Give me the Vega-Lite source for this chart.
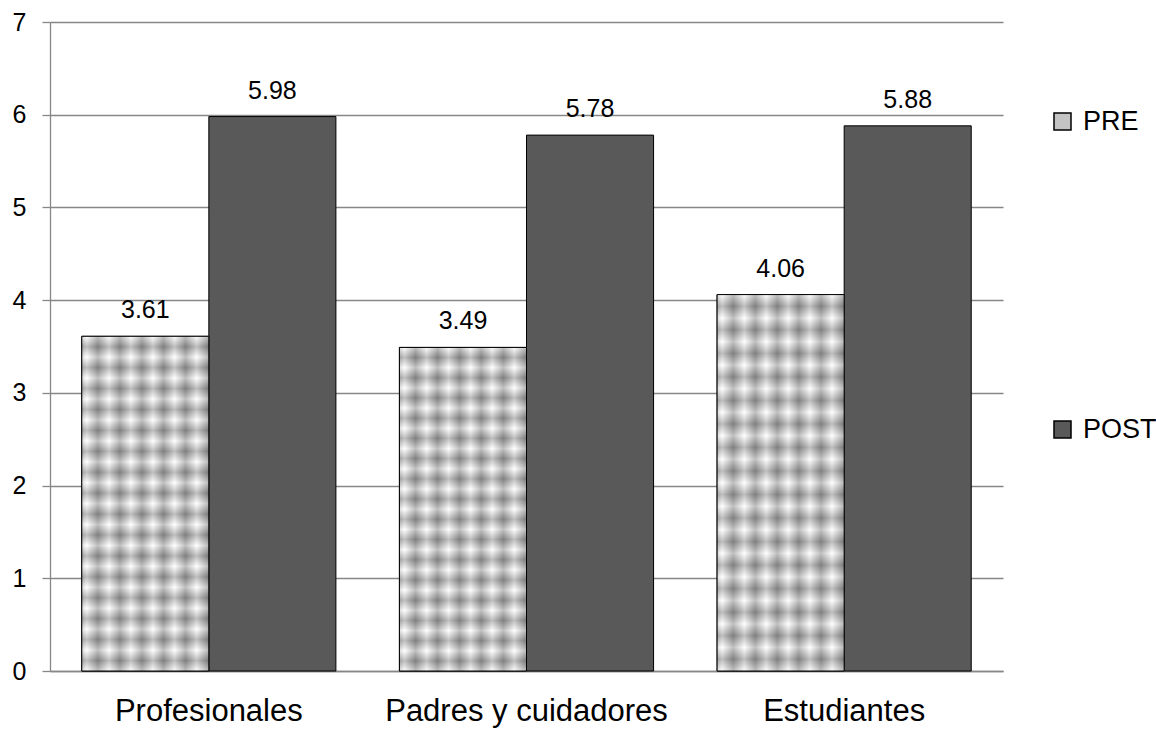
{
  "$schema": "https://vega.github.io/schema/vega-lite/v6.json",
  "width": 953,
  "height": 649,
  "autosize": {"type": "none"},
  "padding": {"left": 50, "top": 22, "right": 153, "bottom": 58},
  "background": "white",
  "config": {"view": {"stroke": null}, "font": "Liberation Sans"},
  "data": {
    "values": [
      {"grupo": "Profesionales", "serie": "Pre", "valor": 3.61},
      {"grupo": "Profesionales", "serie": "Post", "valor": 5.98},
      {"grupo": "Padres y cuidadores", "serie": "Pre", "valor": 3.49},
      {"grupo": "Padres y cuidadores", "serie": "Post", "valor": 5.78},
      {"grupo": "Estudiantes", "serie": "Pre", "valor": 4.06},
      {"grupo": "Estudiantes", "serie": "Post", "valor": 5.88}
    ]
  },
  "encoding": {
    "x": {
      "field": "grupo",
      "type": "nominal",
      "sort": ["Profesionales", "Padres y cuidadores", "Estudiantes"],
      "scale": {"paddingInner": 0.2, "paddingOuter": 0.1},
      "axis": {
        "title": null,
        "ticks": false,
        "tickSize": 0,
        "domain": true,
        "domainColor": "#878787",
        "domainWidth": 1.3,
        "labelAngle": 0,
        "labelLimit": 0,
        "labelFontSize": 31,
        "labelFont": "Liberation Sans",
        "labelColor": "black",
        "labelBaseline": "alphabetic",
        "labelPadding": 49
      }
    },
    "xOffset": {"field": "serie", "type": "nominal", "sort": ["Pre", "Post"]},
    "y": {
      "field": "valor",
      "type": "quantitative",
      "scale": {"domain": [0, 7], "nice": false},
      "axis": {
        "title": null,
        "values": [0, 1, 2, 3, 4, 5, 6, 7],
        "grid": true,
        "gridColor": "#878787",
        "gridWidth": 1.3,
        "domainColor": "#878787",
        "domainWidth": 1.3,
        "tickColor": "#878787",
        "tickWidth": 1.3,
        "tickSize": 8,
        "labelFontSize": 25,
        "labelFont": "Liberation Sans",
        "labelColor": "black",
        "labelPadding": 16
      }
    }
  },
  "layer": [
    {
      "mark": {"type": "bar", "stroke": "black", "strokeWidth": 1},
      "encoding": {
        "color": {
          "field": "serie",
          "type": "nominal",
          "sort": ["Pre", "Post"],
          "scale": {"range": ["#c4c4c4", "#595959"]},
          "legend": {
            "title": null,
            "orient": "none",
            "legendX": 999,
            "legendY": 86,
            "direction": "vertical",
            "symbolType": "square",
            "symbolSize": 289,
            "symbolStrokeColor": "black",
            "symbolStrokeWidth": 1.5,
            "labelFontSize": 27,
            "labelFont": "Liberation Sans",
            "labelColor": "black",
            "labelOffset": 7,
            "rowPadding": 280,
            "padding": 0,
            "labelExpr": "upper(datum.label)"
          }
        }
      }
    },
    {
      "transform": [{"filter": "datum.serie === 'Pre'"}],
      "mark": {
        "type": "bar",
        "fill": {
          "gradient": "linear",
          "x1": 0, "y1": 0, "x2": 1, "y2": 0,
          "stops": [
            {"offset": 0, "color": "#c0c0c0"},
            {"offset": 0.04, "color": "#ffffff"},
            {"offset": 0.127, "color": "#7f7f7f"},
            {"offset": 0.214, "color": "#ffffff"},
            {"offset": 0.3, "color": "#7f7f7f"},
            {"offset": 0.387, "color": "#ffffff"},
            {"offset": 0.474, "color": "#7f7f7f"},
            {"offset": 0.56, "color": "#ffffff"},
            {"offset": 0.643, "color": "#7f7f7f"},
            {"offset": 0.73, "color": "#ffffff"},
            {"offset": 0.817, "color": "#7f7f7f"},
            {"offset": 0.904, "color": "#ffffff"},
            {"offset": 0.99, "color": "#7f7f7f"},
            {"offset": 1, "color": "#838383"}
          ]
        }
      }
    },
    {
      "transform": [{"filter": "datum.serie === 'Pre'"}],
      "mark": {
        "type": "bar",
        "opacity": 0.5,
        "fill": {
          "gradient": "linear",
          "x1": 0, "y1": 0, "x2": 0, "y2": 1,
          "stops": [
            {"offset": 0, "color": "#ffffff"},
            {"offset": 0.03125, "color": "#7f7f7f"},
            {"offset": 0.0625, "color": "#ffffff"},
            {"offset": 0.09375, "color": "#7f7f7f"},
            {"offset": 0.125, "color": "#ffffff"},
            {"offset": 0.15625, "color": "#7f7f7f"},
            {"offset": 0.1875, "color": "#ffffff"},
            {"offset": 0.21875, "color": "#7f7f7f"},
            {"offset": 0.25, "color": "#ffffff"},
            {"offset": 0.28125, "color": "#7f7f7f"},
            {"offset": 0.3125, "color": "#ffffff"},
            {"offset": 0.34375, "color": "#7f7f7f"},
            {"offset": 0.375, "color": "#ffffff"},
            {"offset": 0.40625, "color": "#7f7f7f"},
            {"offset": 0.4375, "color": "#ffffff"},
            {"offset": 0.46875, "color": "#7f7f7f"},
            {"offset": 0.5, "color": "#ffffff"},
            {"offset": 0.53125, "color": "#7f7f7f"},
            {"offset": 0.5625, "color": "#ffffff"},
            {"offset": 0.59375, "color": "#7f7f7f"},
            {"offset": 0.625, "color": "#ffffff"},
            {"offset": 0.65625, "color": "#7f7f7f"},
            {"offset": 0.6875, "color": "#ffffff"},
            {"offset": 0.71875, "color": "#7f7f7f"},
            {"offset": 0.75, "color": "#ffffff"},
            {"offset": 0.78125, "color": "#7f7f7f"},
            {"offset": 0.8125, "color": "#ffffff"},
            {"offset": 0.84375, "color": "#7f7f7f"},
            {"offset": 0.875, "color": "#ffffff"},
            {"offset": 0.90625, "color": "#7f7f7f"},
            {"offset": 0.9375, "color": "#ffffff"},
            {"offset": 0.96875, "color": "#7f7f7f"},
            {"offset": 1, "color": "#ffffff"}
          ]
        }
      }
    },
    {
      "transform": [{"filter": "datum.serie === 'Pre'"}],
      "mark": {"type": "bar", "fillOpacity": 0, "stroke": "black", "strokeWidth": 1}
    },
    {
      "mark": {
        "type": "text",
        "baseline": "alphabetic",
        "align": "center",
        "dy": -18,
        "fontSize": 25,
        "font": "Liberation Sans",
        "color": "black"
      },
      "encoding": {
        "text": {"field": "valor", "type": "quantitative", "format": ".2f"}
      }
    }
  ]
}
